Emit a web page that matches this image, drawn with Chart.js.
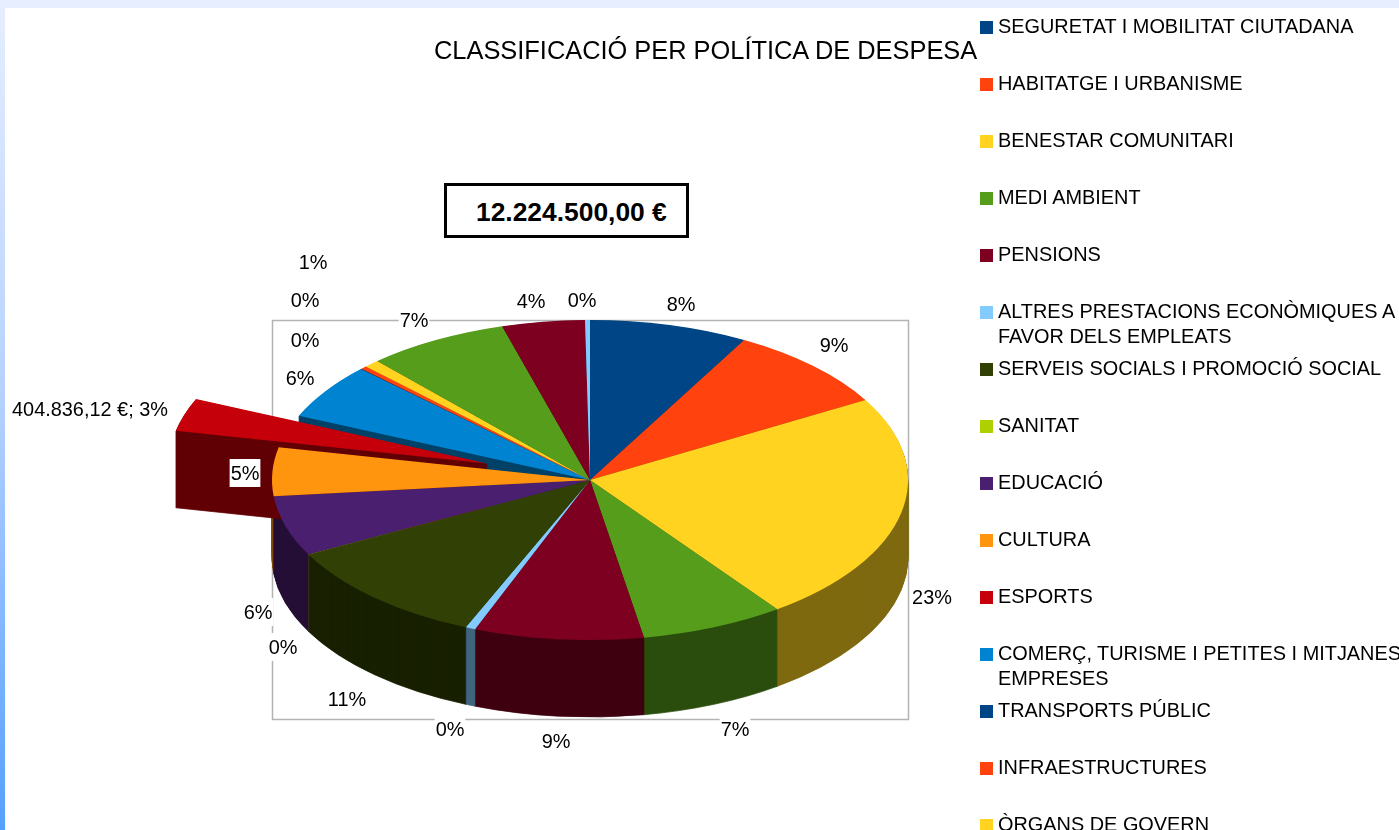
<!DOCTYPE html>
<html>
<head>
<meta charset="utf-8">
<title>Classificació per política de despesa</title>
<script src="https://cdn.jsdelivr.net/npm/chart.js@4/dist/chart.umd.min.js"></script>
<style>
  html, body { margin: 0; height: 100%; overflow: hidden; background: #fff; }
  body { font-family: "Liberation Sans", sans-serif; color: #000; }
  #wrap { position: absolute; left: 0; top: 0; width: 1399px; height: 830px; overflow: hidden; }
  #topStrip { position: absolute; left: 0; top: 0; width: 1399px; height: 8px; background: #e6eeff; }
  #leftStrip { position: absolute; left: 0; top: 0; width: 5px; height: 830px; background: linear-gradient(#e6eeff, #b6d1ff 48%, #55a0ff); }
  #chartBox { position: absolute; left: 0; top: 0; width: 1399px; height: 830px; }
  #title { position: absolute; left: 434px; top: 35px; font-size: 25.4px; line-height: 30px; white-space: nowrap; }
  #total { position: absolute; left: 444px; top: 183px; width: 239px; height: 49px; border: 3px solid #000; background: #fff; }
  #total span { position: absolute; left: 29px; top: 11px; font-size: 26.4px; line-height: 30px; font-weight: bold; white-space: nowrap; }
  .item { position: absolute; left: 998px; font-size: 19.9px; line-height: 25px; white-space: nowrap; }
  .swatch { position: absolute; left: 980px; width: 13px; height: 13px; }
</style>
</head>
<body>
<div id="wrap">
  <div id="topStrip"></div>
  <div id="leftStrip"></div>
  <div id="chartBox"><canvas id="chart"></canvas></div>
  <div id="title">CLASSIFICACIÓ PER POLÍTICA DE DESPESA</div>
  <div id="total"><span>12.224.500,00 €</span></div>
  <div id="legend"></div>
</div>
<script>
// legend only shows the categories that fit in the picture, the last three slices are cut off
const categories = [
  "SEGURETAT I MOBILITAT CIUTADANA",
  "HABITATGE I URBANISME",
  "BENESTAR COMUNITARI",
  "MEDI AMBIENT",
  "PENSIONS",
  "ALTRES PRESTACIONS ECONÒMIQUES A\nFAVOR DELS EMPLEATS",
  "SERVEIS SOCIALS I PROMOCIÓ SOCIAL",
  "SANITAT",
  "EDUCACIÓ",
  "CULTURA",
  "ESPORTS",
  "COMERÇ, TURISME I PETITES I MITJANES\nEMPRESES",
  "TRANSPORTS PÚBLIC",
  "INFRAESTRUCTURES",
  "ÒRGANS DE GOVERN",
  "",
  "",
  "",
];

// percentage of the total
const values = [8.05, 8.6, 23.3, 7.3, 8.6, 0.5, 10.9, 0.02, 6.05, 4.9, 3.31, 5.6, 0.05, 0.3, 0.8, 7.2, 4.2, 0.25];

const colors = [
  "#004586", "#ff420e", "#ffd320", "#579d1c", "#7e0021", "#83caff",
  "#314004", "#aecf00", "#4b1f6f", "#ff950e", "#c5000b", "#0084d1",
  "#004586", "#ff420e", "#ffd320", "#579d1c", "#7e0021", "#83caff",
];

const labelTexts = ["8%", "9%", "23%", "7%", "9%", "0%", "11%", "0%", "6%", "5%", "404.836,12 €; 3%", "6%", "0%", "0%", "1%", "7%", "4%", "0%"];
const labelX = [681, 834, 932, 735, 556, 450, 347, 283, 258, 245, 90, 300, 305, 305, 313, 414, 531, 582];
const labelY = [304, 345, 597, 729, 741, 729, 699, 647, 612, 473, 409, 378, 340, 300, 262, 320, 301, 300];

const explodedIndex = 10;
const explodedShift = 108;

const centerX = 590;
const centerY = 480;
const radiusX = 318;
const radiusY = 160;
const depth = 77;

function darken(hex) {
  const n = parseInt(hex.slice(1), 16);
  const r = (n >> 16) >> 1;
  const g = ((n >> 8) & 255) >> 1;
  const b = (n & 255) >> 1;
  return `rgb(${r}, ${g}, ${b})`;
}

const legendBox = document.getElementById("legend");
categories.forEach((name, i) => {
  if (!name) {
    return;
  }
  const swatch = document.createElement("div");
  swatch.className = "swatch";
  swatch.style.top = 21 + 57 * i + "px";
  swatch.style.background = colors[i];
  legendBox.appendChild(swatch);
  const item = document.createElement("div");
  item.className = "item";
  item.style.top = 14 + 57 * i + "px";
  item.innerHTML = name.replace("\n", "<br>");
  legendBox.appendChild(item);
});

// squashes the round pie into an ellipse, shifted down by y for the side walls
function withTilt(ctx, y, draw) {
  ctx.save();
  ctx.translate(centerX, centerY + y);
  ctx.scale(1, radiusY / radiusX);
  ctx.translate(-centerX, -centerY);
  draw();
  ctx.restore();
}

// the thin border of the same colour closes the seams between the wall pieces
function drawDark(ctx, arc, color) {
  const original = arc.options;
  arc.options = { ...original, backgroundColor: color, borderColor: color, borderWidth: 1 };
  arc.draw(ctx);
  arc.options = original;
}

const pie3d = {
  id: "pie3d",
  beforeDatasetDraw(chart) {
    const ctx = chart.ctx;
    const arcs = chart.getDatasetMeta(0).data;
    const exploded = arcs[explodedIndex];
    const mid = (exploded.startAngle + exploded.endAngle) / 2;

    ctx.save();
    ctx.strokeStyle = "#b3b3b3";
    ctx.lineWidth = 1.5;
    ctx.strokeRect(centerX - radiusX + 0.5, centerY - radiusY + 0.5, radiusX * 2, radiusY * 2 + depth + 2);
    ctx.restore();

    // side walls of the pie, one layer per pixel from the bottom up
    for (let y = depth; y > 0; y--) {
      withTilt(ctx, y, () => {
        arcs.forEach((arc, i) => {
          if (i !== explodedIndex) {
            drawDark(ctx, arc, darken(colors[i]));
          }
        });
      });
    }

    // the pulled out slice sits between the walls and the tops
    const moveOut = () => ctx.translate(Math.cos(mid) * explodedShift, Math.sin(mid) * explodedShift);
    for (let y = depth; y > 0; y--) {
      withTilt(ctx, y, () => {
        moveOut();
        drawDark(ctx, exploded, darken(colors[explodedIndex]));
      });
    }
    withTilt(ctx, 0, () => {
      moveOut();
      exploded.draw(ctx);
    });

    withTilt(ctx, 0, () => {
      arcs.forEach((arc, i) => {
        if (i !== explodedIndex) {
          arc.draw(ctx);
        }
      });
    });
    return false;
  },
  afterDraw(chart) {
    const ctx = chart.ctx;
    ctx.save();
    ctx.font = '19.9px "Liberation Sans"';
    ctx.textAlign = "center";
    ctx.textBaseline = "middle";
    labelTexts.forEach((text, i) => {
      const w = ctx.measureText(text).width;
      ctx.fillStyle = "#fff";
      ctx.fillRect(labelX[i] - w / 2 - 1, labelY[i] - 14, w + 2, 28);
      ctx.fillStyle = "#000";
      ctx.fillText(text, labelX[i], labelY[i] + 2);
    });
    ctx.restore();
  },
};

new Chart(document.getElementById("chart"), {
  type: "pie",
  data: {
    labels: categories,
    datasets: [
      {
        data: values,
        backgroundColor: colors,
        borderWidth: 0,
      },
    ],
  },
  options: {
    responsive: true,
    maintainAspectRatio: false,
    animation: false,
    events: [],
    radius: radiusX,
    layout: {
      padding: { left: 0, right: 1399 - centerX * 2, top: centerY * 2 - 830, bottom: 0 },
    },
    plugins: {
      legend: { display: false },
      tooltip: { enabled: false },
    },
  },
  plugins: [pie3d],
});
</script>
</body>
</html>
